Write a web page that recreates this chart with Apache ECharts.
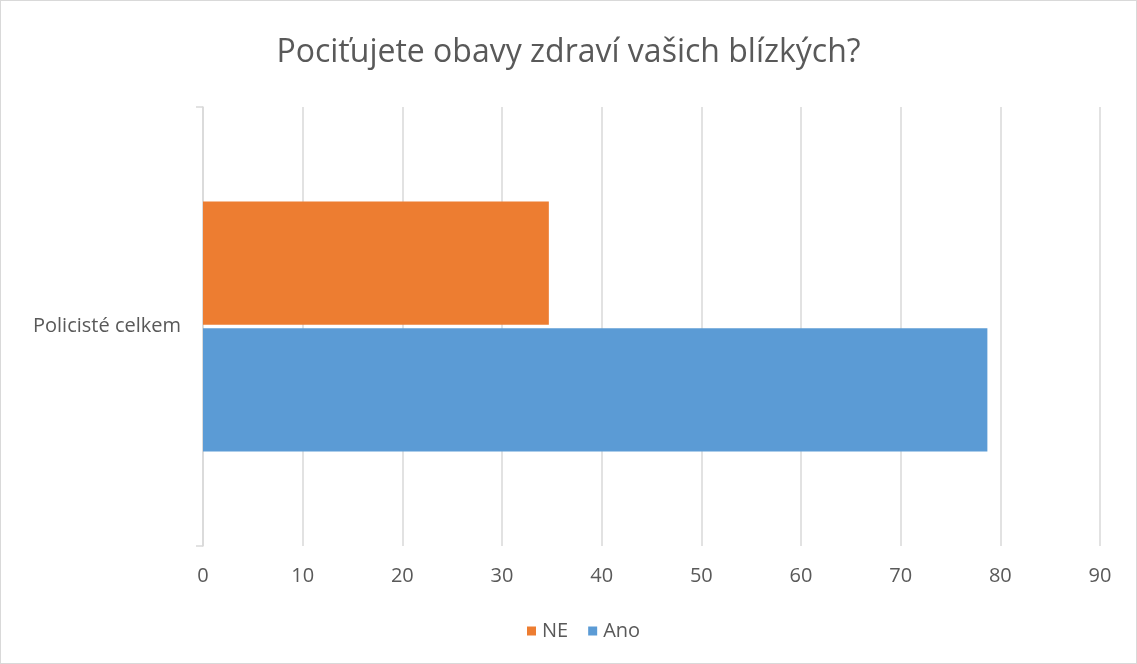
<!DOCTYPE html>
<html>
<head>
<meta charset="utf-8">
<script src="https://cdn.jsdelivr.net/npm/echarts@6/dist/echarts.min.js"></script>
<style>
html,body{margin:0;padding:0;background:#fff;}
#chart{width:1135px;height:662px;border:1px solid #d9d9d9;}
</style>
</head>
<body>
<div id="chart"></div>
<script>
// data
var categories = ['Policisté celkem'];
var seriesNames = ['NE', 'Ano'];
var valuesNE = [34.7];
var valuesAno = [78.7];
var xTicks = [0, 90, 10];

var textColor = '#595959';
var fontName = '"Open Sans", sans-serif';

var option = {
	animation: false,
	title: {
		text: 'Pociťujete obavy zdraví vašich blízkých?',
		left: 'center',
		top: 31,
		textStyle: {color: textColor, fontSize: 32, fontWeight: 'normal', fontFamily: fontName}
	},
	legend: {
		data: seriesNames,
		bottom: 17,
		left: 521,
		icon: 'rect',
		itemWidth: 9,
		itemHeight: 9,
		itemGap: 20,
		itemStyle: {borderWidth: 0},
		textStyle: {color: textColor, fontSize: 20, fontFamily: fontName, padding: [0, 0, 0, 1]}
	},
	grid: {left: 202, right: 36, top: 106, bottom: 117},
	xAxis: {
		type: 'value',
		min: xTicks[0],
		max: xTicks[1],
		interval: xTicks[2],
		axisLine: {show: false},
		axisTick: {show: false},
		axisLabel: {color: textColor, fontSize: 20, fontFamily: fontName, margin: 20},
		splitLine: {lineStyle: {color: '#d9d9d9', width: 1.5}}
	},
	yAxis: {
		type: 'category',
		data: categories,
		axisLine: {show: true, lineStyle: {color: '#d9d9d9', width: 1.5}},
		axisTick: {show: true, length: 7, lineStyle: {color: '#d9d9d9', width: 1.5}},
		axisLabel: {color: textColor, fontSize: 20, fontFamily: fontName, margin: 22}
	},
	series: [
		{
			name: 'NE',
			type: 'bar',
			data: valuesNE,
			itemStyle: {color: '#ed7d31'},
			barGap: '3%',
			barCategoryGap: '43%'
		},
		{
			name: 'Ano',
			type: 'bar',
			data: valuesAno,
			itemStyle: {color: '#5b9bd5'},
			barGap: '3%',
			barCategoryGap: '43%'
		}
	]
};

var myChart = echarts.init(document.getElementById('chart'));
myChart.setOption(option);
</script>
</body>
</html>
